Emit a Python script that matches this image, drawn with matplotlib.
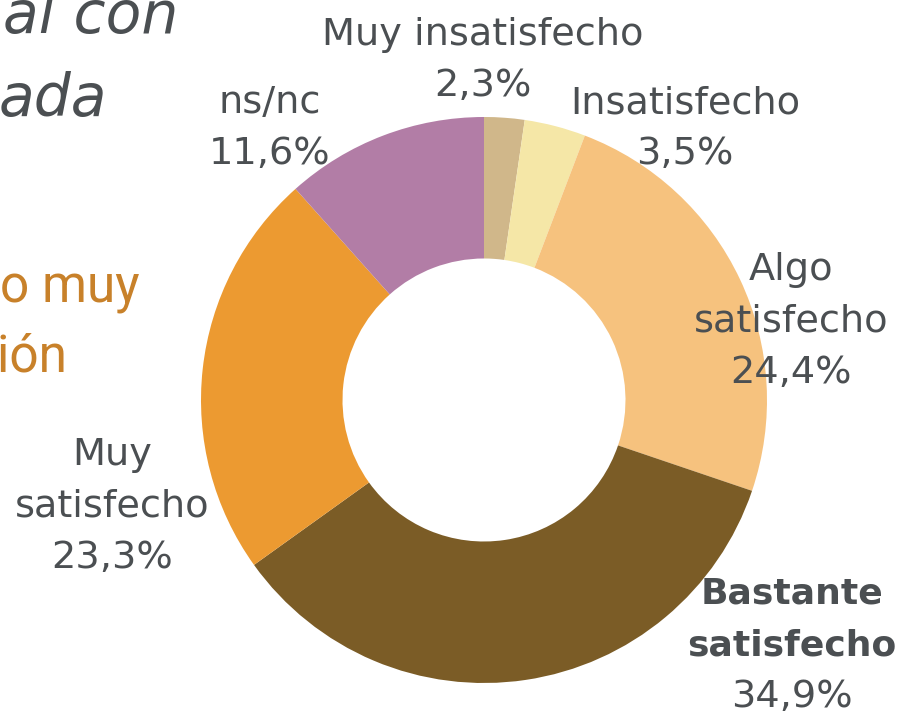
import matplotlib
matplotlib.use("Agg")
import matplotlib.pyplot as plt

categories = ["Muy insatisfecho", "Insatisfecho", "Algo satisfecho",
              "Bastante satisfecho", "Muy satisfecho", "ns/nc"]
values = [2.3, 3.5, 24.4, 34.9, 23.3, 11.6]
label_lines = [["Muy insatisfecho"], ["Insatisfecho"], ["Algo", "satisfecho"],
               ["Bastante", "satisfecho"], ["Muy", "satisfecho"], ["ns/nc"]]
colors = ["#D0B78A", "#F5E7A7", "#F6C27E", "#7B5C26", "#EC9A31", "#B27DA6"]
bold = [False, False, False, True, False, False]

W, H = 906, 717
fig = plt.figure(figsize=(W / 100, H / 100), dpi=100)
ax = fig.add_axes([0, 0, 1, 1])

cx, cy, R = 484, H - 400, 283
ax.pie(values, colors=colors, startangle=90, counterclock=False,
       center=(cx, cy), radius=R,
       wedgeprops=dict(width=R * 0.5, linewidth=0))
ax.set_xlim(0, W)
ax.set_ylim(0, H)
ax.set_aspect("equal")
ax.axis("off")

txt_color = "#4B4F52"
fs = 27.5
fs_bold = 26
line_h = 51.5
# label anchor (center x, top line center y in pixels from top)
anchors = [(483, 35), (685, 103), (791, 270), (792, 594), (112, 455), (270, 103)]
for lines, v, (x, ytop), b in zip(label_lines, values, anchors, bold):
    all_lines = lines + [f"{v:.1f}".replace(".", ",") + "%"]
    for i, s in enumerate(all_lines):
        is_bold = b and i < len(lines)
        ax.text(x, H - (ytop + i * line_h), s, ha="center", va="center",
                fontsize=fs_bold if is_bold else fs, color=txt_color,
                fontweight="bold" if is_bold else "normal")

# partially visible titles on the left
ax.text(178, H - 33, "al con", ha="right", va="baseline", fontsize=42,
        style="italic", color="#4B4F52")
ax.text(107, H - 116, "ada", ha="right", va="baseline", fontsize=42,
        style="italic", color="#4B4F52")
ax.text(140, H - 302, "o muy", ha="right", va="baseline", fontsize=37,
        family=["Roboto", "DejaVu Sans"], color="#C8812A")
ax.text(68, H - 372, "ción", ha="right", va="baseline", fontsize=37,
        family=["Roboto", "DejaVu Sans"], color="#C8812A")

fig.savefig("out.png", dpi=100)
